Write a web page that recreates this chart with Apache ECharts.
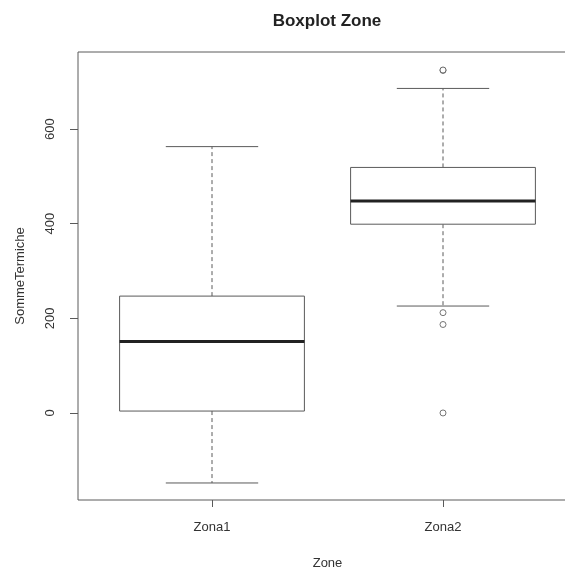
<!DOCTYPE html>
<html>
<head>
<meta charset="utf-8">
<script src="https://cdn.jsdelivr.net/npm/echarts@6/dist/echarts.min.js"></script>
<style>
  html, body { margin: 0; padding: 0; background: #fff; }
  #main { width: 565px; height: 567px; }
</style>
</head>
<body>
<div id="main"></div>
<script>
// dati
var categories = ['Zona1', 'Zona2'];
var lowWhisker = [-148, 226];
var q1 = [4, 399];
var median = [151, 448];
var q3 = [247, 519];
var highWhisker = [563, 686];
var outliers = [[1, 724], [1, 725], [1, 212], [1, 187], [1, 0]];
var yTicks = [0, 200, 400, 600];

var boxData = categories.map(function (c, i) {
  return [i, lowWhisker[i], q1[i], median[i], q3[i], highWhisker[i]];
});

var chart = echarts.init(document.getElementById('main'));
var lineCol = '#5a5a5a';
var textCol = '#333';
var font = 'Liberation Sans, Arial, sans-serif';

function renderBox(params, api) {
  var x = api.value(0);
  var band = api.size([1, 0])[0];
  var pLow = api.coord([x, api.value(1)]);
  var pQ1 = api.coord([x, api.value(2)]);
  var pMed = api.coord([x, api.value(3)]);
  var pQ3 = api.coord([x, api.value(4)]);
  var pHigh = api.coord([x, api.value(5)]);
  var cx = pMed[0];
  var bw = band * 0.4;   // mezza larghezza scatola
  var cw = band * 0.2;   // mezza larghezza baffi
  return {
    type: 'group',
    children: [
      { type: 'line', shape: { x1: cx, y1: pQ3[1], x2: cx, y2: pHigh[1] },
        style: { stroke: lineCol, lineWidth: 1, lineDash: [4, 3] } },
      { type: 'line', shape: { x1: cx, y1: pQ1[1], x2: cx, y2: pLow[1] },
        style: { stroke: lineCol, lineWidth: 1, lineDash: [4, 3] } },
      { type: 'line', shape: { x1: cx - cw, y1: pHigh[1], x2: cx + cw, y2: pHigh[1] },
        style: { stroke: lineCol, lineWidth: 1 } },
      { type: 'line', shape: { x1: cx - cw, y1: pLow[1], x2: cx + cw, y2: pLow[1] },
        style: { stroke: lineCol, lineWidth: 1 } },
      { type: 'rect', shape: { x: cx - bw, y: pQ3[1], width: bw * 2, height: pQ1[1] - pQ3[1] },
        style: { fill: '#fff', stroke: lineCol, lineWidth: 1 } },
      { type: 'line', shape: { x1: cx - bw, y1: pMed[1], x2: cx + bw, y2: pMed[1] },
        style: { stroke: '#222', lineWidth: 3 } }
    ]
  };
}

var option = {
  animation: false,
  backgroundColor: '#fff',
  title: {
    text: 'Boxplot Zone',
    left: 322,
    top: 8,
    textAlign: 'center',
    textStyle: { fontFamily: font, fontSize: 17, fontWeight: 'bold', color: '#222' }
  },
  grid: [
    { // cornice
      left: 78, right: -12, top: 52, bottom: 67,
      outerBoundsMode: 'none', containLabel: false,
      show: true, borderColor: lineCol, borderWidth: 1, backgroundColor: 'transparent'
    },
    { // dati
      left: 96.5, right: 6.5, top: 52, bottom: 67,
      outerBoundsMode: 'none', containLabel: false
    }
  ],
  xAxis: [
    { gridIndex: 0, type: 'value', min: 0, max: 1, show: false },
    {
      gridIndex: 1,
      type: 'category',
      position: 'bottom',
      data: categories,
      boundaryGap: true,
      name: 'Zone',
      nameLocation: 'middle',
      nameGap: 57,
      nameTextStyle: { fontFamily: font, fontSize: 13, color: textCol },
      axisLine: { show: false, onZero: false },
      axisTick: { show: true, alignWithLabel: true, length: 7, inside: false,
        lineStyle: { color: lineCol } },
      axisLabel: { margin: 21, fontFamily: font, fontSize: 13, color: textCol },
      splitLine: { show: false }
    }
  ],
  yAxis: [
    {
      gridIndex: 0,
      type: 'value',
      min: -184,
      max: 763,
      name: 'SommeTermiche',
      nameLocation: 'middle',
      nameRotate: 90,
      nameGap: 51,
      nameTextStyle: { fontFamily: font, fontSize: 13, color: textCol },
      axisLine: { show: false },
      axisTick: { show: true, length: 8, customValues: yTicks, lineStyle: { color: lineCol } },
      axisLabel: { rotate: 90, margin: 21, customValues: yTicks,
        fontFamily: font, fontSize: 13, color: textCol },
      splitLine: { show: false }
    },
    { gridIndex: 1, type: 'value', min: -184, max: 763, show: false, splitLine: { show: false } }
  ],
  series: [
    {
      type: 'custom',
      xAxisIndex: 1,
      yAxisIndex: 1,
      renderItem: renderBox,
      encode: { x: 0, y: [1, 2, 3, 4, 5] },
      data: boxData
    },
    {
      type: 'scatter',
      xAxisIndex: 1,
      yAxisIndex: 1,
      symbol: 'circle',
      symbolSize: 6,
      itemStyle: { color: '#fff', borderColor: '#555', borderWidth: 1 },
      data: outliers
    }
  ]
};
chart.setOption(option);
</script>
</body>
</html>
